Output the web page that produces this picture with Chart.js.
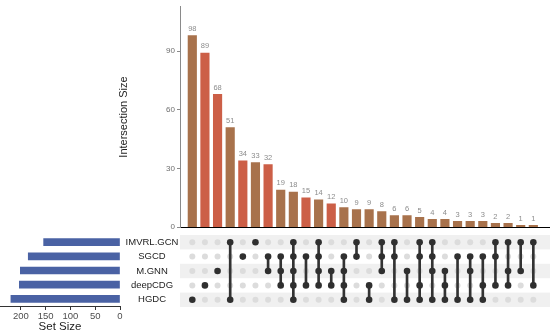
<!DOCTYPE html>
<html>
<head>
<meta charset="utf-8">
<script src="https://cdn.jsdelivr.net/npm/chart.js@4/dist/chart.umd.min.js"></script>
<style>
  body { margin: 0; background: #fff; }
  .box { position: absolute; }
</style>
</head>
<body>
<div class="box" style="left:110px; top:0px;"><canvas id="barChart" width="440" height="234"></canvas></div>
<div class="box" style="left:0px; top:235px;"><canvas id="sizeChart" width="182" height="100"></canvas></div>
<div class="box" style="left:122px; top:235px;"><canvas id="matrixChart" width="428" height="72"></canvas></div>

<script>
// =============================
// DATA
// =============================
const setNames = ["IMVRL.GCN", "SGCD", "M.GNN", "deepCDG", "HGDC"];
const setSizes = [154, 185, 201, 203, 220];

const intersectionSizes = [98, 89, 68, 51, 34, 33, 32, 19, 18, 15, 14, 12, 10, 9, 9, 8, 6, 6, 5, 4, 4, 3, 3, 3, 2, 2, 1, 1];

const intersectionSets = [
  ["HGDC"],
  ["deepCDG"],
  ["M.GNN"],
  ["IMVRL.GCN", "HGDC"],
  ["SGCD"],
  ["IMVRL.GCN"],
  ["SGCD", "M.GNN"],
  ["SGCD", "M.GNN", "deepCDG"],
  ["IMVRL.GCN", "SGCD", "M.GNN", "deepCDG", "HGDC"],
  ["SGCD", "deepCDG"],
  ["IMVRL.GCN", "SGCD", "M.GNN", "deepCDG"],
  ["M.GNN", "deepCDG"],
  ["SGCD", "M.GNN", "deepCDG", "HGDC"],
  ["IMVRL.GCN", "SGCD"],
  ["deepCDG", "HGDC"],
  ["IMVRL.GCN", "SGCD", "M.GNN"],
  ["IMVRL.GCN", "SGCD", "HGDC"],
  ["M.GNN", "HGDC"],
  ["IMVRL.GCN", "SGCD", "deepCDG", "HGDC"],
  ["IMVRL.GCN", "SGCD", "M.GNN", "HGDC"],
  ["M.GNN", "deepCDG", "HGDC"],
  ["SGCD", "HGDC"],
  ["SGCD", "M.GNN", "HGDC"],
  ["SGCD", "deepCDG", "HGDC"],
  ["IMVRL.GCN", "SGCD", "deepCDG"],
  ["IMVRL.GCN", "M.GNN", "deepCDG"],
  ["IMVRL.GCN", "M.GNN"],
  ["IMVRL.GCN", "deepCDG"]
];

const yTicks = [0, 30, 60, 90];
const sizeTicks = [0, 50, 100, 150, 200];

// bar colours (the picture mixes a brown and a red tone)
const BROWN = "#a8724c";
const RED = "#cc5f47";
const redBars = [1, 2, 4, 6, 9, 11];

const FONT = "'Liberation Sans', Arial, sans-serif";
Chart.defaults.font.family = FONT;
Chart.defaults.devicePixelRatio = 1;

// shared x range so bars and matrix columns line up
const X_MIN = -0.974;
const X_MAX = 28.32;

// =============================
// TOP: INTERSECTION SIZE BARS
// =============================
const barLabels = {
  id: "barLabels",
  afterDatasetsDraw(chart) {
    const ctx = chart.ctx;
    const meta = chart.getDatasetMeta(0);
    ctx.save();
    ctx.font = "7.5px " + FONT;
    ctx.fillStyle = "#8c8c8c";
    ctx.textAlign = "center";
    ctx.textBaseline = "bottom";
    meta.data.forEach((el, i) => {
      ctx.fillText(String(intersectionSizes[i]), el.x, el.y - 3);
    });
    ctx.restore();
  }
};

new Chart(document.getElementById("barChart"), {
  type: "bar",
  data: {
    datasets: [{
      data: intersectionSizes.map((v, i) => ({ x: i, y: v })),
      backgroundColor: intersectionSizes.map((v, i) => redBars.includes(i) ? RED : BROWN),
      barThickness: 8.5
    }]
  },
  options: {
    responsive: false,
    animation: false,
    layout: { padding: { top: 5, bottom: 1, left: 0, right: 0 }, autoPadding: false },
    plugins: { legend: { display: false }, tooltip: { enabled: false } },
    scales: {
      x: {
        type: "linear",
        min: X_MIN,
        max: X_MAX,
        offset: false,
        bounds: "data",
        grid: { display: false },
        ticks: { display: false },
        border: { display: true, color: "#000", width: 1 },
        afterFit: s => { s.height = 0; }
      },
      y: {
        min: 0,
        max: 112.7,
        afterBuildTicks: s => { s.ticks = yTicks.map(v => ({ value: v })); },
        ticks: { color: "#6e6e6e", font: { size: 8 }, padding: 2 },
        grid: { display: true, drawOnChartArea: false, tickLength: 3, color: "#8a8a8a" },
        border: { display: true, color: "#8a8a8a", width: 1 },
        title: { display: true, text: "Intersection Size", color: "#222", font: { size: 11 }, padding: { top: 7, bottom: 0 } },
        afterFit: s => { s.width = 70; }
      }
    }
  },
  plugins: [barLabels]
});

// =============================
// LEFT: SET SIZE BARS
// =============================
new Chart(document.getElementById("sizeChart"), {
  type: "bar",
  data: {
    labels: setNames,
    datasets: [{
      data: setSizes,
      backgroundColor: "#4a62a4",
      barThickness: 7
    }]
  },
  options: {
    indexAxis: "y",
    responsive: false,
    animation: false,
    layout: { padding: 0 },
    plugins: { legend: { display: false }, tooltip: { enabled: false } },
    scales: {
      x: {
        type: "linear",
        reverse: true,
        min: 0,
        max: 242,
        afterBuildTicks: s => { s.ticks = sizeTicks.map(v => ({ value: v })); },
        ticks: { color: "#4d4d4d", font: { size: 9.5 }, padding: 1 },
        grid: { display: true, drawOnChartArea: false, tickLength: 4, color: "#333" },
        border: { display: true, color: "#333", width: 1 },
        title: { display: true, text: "Set Size", color: "#222", font: { size: 11.5 }, padding: { top: 0, bottom: 1 } },
        afterFit: s => { s.height = 29; }
      },
      y: {
        position: "right",
        ticks: { display: false },
        grid: { display: false },
        border: { display: false },
        afterFit: s => { s.width = 62; }
      }
    }
  }
});

// =============================
// MATRIX
// =============================
const inactivePts = [];
const activePts = [];
const linkBars = [];
intersectionSets.forEach((sets, col) => {
  const rows = sets.map(n => setNames.indexOf(n));
  setNames.forEach((n, r) => {
    if (rows.includes(r)) activePts.push({ x: col, y: r });
    else inactivePts.push({ x: col, y: r });
  });
  linkBars.push({ x: col, y: [Math.min(...rows), Math.max(...rows)] });
});

// alternating row bands + set names
const matrixDecor = {
  id: "matrixDecor",
  beforeDatasetsDraw(chart) {
    const ctx = chart.ctx;
    const area = chart.chartArea;
    const y = chart.scales.y;
    ctx.save();
    ctx.fillStyle = "#f0f0f0";
    setNames.forEach((n, r) => {
      if (r % 2 !== 0) return;
      const top = y.getPixelForValue(r - 0.5);
      const bot = y.getPixelForValue(r + 0.5);
      ctx.fillRect(area.left, Math.min(top, bot), area.right - area.left, Math.abs(bot - top));
    });
    ctx.font = "9.5px " + FONT;
    ctx.fillStyle = "#222";
    ctx.textAlign = "center";
    ctx.textBaseline = "middle";
    setNames.forEach((n, r) => {
      ctx.fillText(n, area.left - 28, y.getPixelForValue(r));
    });
    ctx.restore();
  }
};

new Chart(document.getElementById("matrixChart"), {
  type: "bar",
  data: {
    datasets: [
      {
        type: "scatter",
        data: inactivePts,
        pointRadius: 3,
        pointBackgroundColor: "#dcdcdc",
        pointBorderWidth: 0,
        order: 3
      },
      {
        type: "bar",
        data: linkBars,
        backgroundColor: "#333",
        barThickness: 2,
        borderWidth: 0,
        order: 2
      },
      {
        type: "scatter",
        data: activePts,
        pointRadius: 3.3,
        pointBackgroundColor: "#2f2f2f",
        pointBorderWidth: 0,
        order: 1
      }
    ]
  },
  options: {
    responsive: false,
    animation: false,
    layout: { padding: 0, autoPadding: false },
    plugins: { legend: { display: false }, tooltip: { enabled: false } },
    scales: {
      x: {
        type: "linear",
        min: X_MIN,
        max: X_MAX,
        offset: false,
        bounds: "data",
        grid: { display: false },
        ticks: { display: false },
        border: { display: false },
        afterFit: s => { s.height = 0; }
      },
      y: {
        type: "linear",
        reverse: true,
        min: -0.5,
        max: 4.5,
        offset: false,
        bounds: "data",
        grid: { display: false },
        ticks: { display: false },
        border: { display: false },
        afterFit: s => { s.width = 58; }
      }
    }
  },
  plugins: [matrixDecor]
});
</script>
</body>
</html>
